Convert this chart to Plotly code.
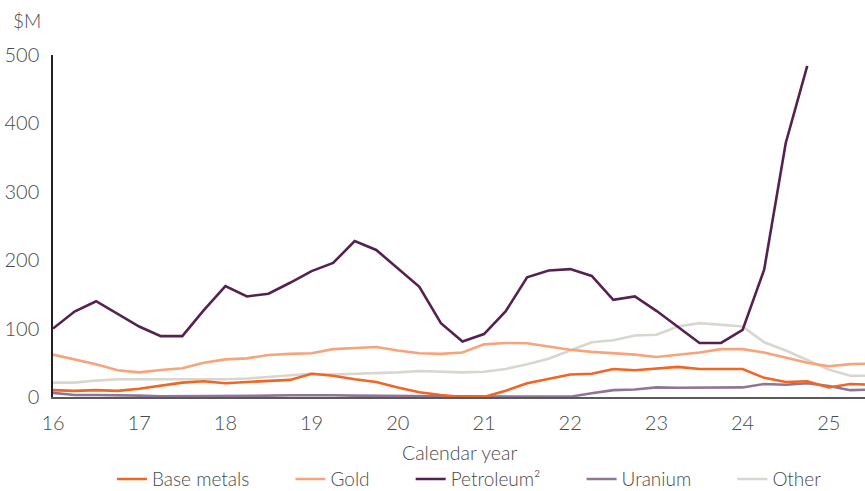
import plotly.graph_objects as go

# Quarterly observations, calendar years 2016 to 2025 (x in two-digit years)
quarters = [16 + 0.25 * i for i in range(39)]

base_metals = [10, 9, 10, 9, 12, 17, 21, 23, 20, 22, 24, 25, 34, 31, 26, 22,
               14, 7, 3, 0, 0, 9, 20, 26, 33, 34, 41, 39, 41, 44, 41, 41,
               41, 28, 22, 23, 14, 19, 18]
gold = [62, 55, 48, 39, 36, 39.5, 42, 50, 55, 56.5, 61.5, 63, 64, 70, 71, 73,
        68, 64, 63, 65, 77, 79, 78.5, 73.5, 69, 66, 64, 62, 58.5, 61.5, 65, 70,
        70, 65, 57, 50, 45, 48, 49]
petroleum = [100, 125, 140, 121, 103, 89, 89, 127, 162, 147, 151, 167, 184, 196,
             228, 215, 188, 161, 108, 81, 92, 125, 175, 185, 187, 177, 142, 147,
             126, 103, 79, 79, 98, 186, 371, 484]
uranium = [6, 3, 3, 3, 2, 1, 1, 1, 1, 1.5, 2, 2.5, 3, 2.5, 2, 1.5,
           1, 1, 1, 1, 1, 1, 1, 1, 0.5, 5.5, 10, 11, 14, 13.5, 13.5, 13,
           14, 19, 18, 20, 16, 10, 11]
other = [21, 21, 24, 26, 26, 26, 26, 25, 26, 27, 29, 32, 34, 33, 34, 34,
         36, 38, 37, 36, 37, 41, 48, 56, 68, 80, 83, 90, 91, 103, 108, 106,
         103, 80, 68, 54, 40, 31, 31]

year_ticks = list(range(16, 26))
value_ticks = [0, 100, 200, 300, 400, 500]

series = [
    ("Base metals", base_metals, "#F26522"),
    ("Gold", gold, "#F7A47B"),
    ("Petroleum²", petroleum, "#55224F"),
    ("Uranium", uranium, "#8F7696"),
    ("Other", other, "#D9D6CF"),
]
order = [s[0] for s in series]

FONT = "Lato"
TEXT = "#4a4a4a"
PAD = "\u00a0" * 7  # extra room after each legend label

fig = go.Figure()
# draw the pale lines first so the dark ones sit on top
for name, values, color in [series[4], series[1], series[3], series[0], series[2]]:
    fig.add_trace(go.Scatter(
        x=quarters[:len(values)], y=values, mode="lines", name=name + PAD,
        line=dict(color=color, width=2.6),
        legendrank=order.index(name) + 1,
    ))

fig.update_layout(
    width=865, height=491,
    margin=dict(l=53, r=0, t=55, b=94, autoexpand=False),
    paper_bgcolor="white", plot_bgcolor="white",
    font=dict(family=FONT, size=19, color=TEXT, weight=300),
    showlegend=True,
    legend=dict(
        orientation="h", xref="container", yref="container",
        x=112 / 865, xanchor="left", y=0.024, yanchor="middle",
        font=dict(family=FONT, size=19, color=TEXT, weight=300),
        itemwidth=30, traceorder="normal", tracegroupgap=0,
    ),
    annotations=[
        dict(text="$M", xref="paper", yref="paper", x=-0.052, y=1.1,
             xanchor="left", yanchor="middle", showarrow=False,
             font=dict(family=FONT, size=19, color=TEXT, weight=300)),
        dict(text="Calendar year", xref="paper", yref="paper", x=0.5, y=-0.161,
             xanchor="center", yanchor="middle", showarrow=False,
             font=dict(family=FONT, size=19.5, color=TEXT, weight=300)),
    ],
)

fig.update_xaxes(
    range=[16, 25.42], tickvals=year_ticks, ticktext=[str(t) for t in year_ticks],
    showgrid=False, zeroline=False, showline=True, linecolor="#5a5a5a", linewidth=2,
    ticks="", ticklabelstandoff=7, automargin=False,
    tickfont=dict(family=FONT, size=20, color=TEXT, weight=300),
)
fig.update_yaxes(
    range=[0, 500], tickvals=value_ticks, ticktext=[str(t) for t in value_ticks],
    showgrid=False, zeroline=False, showline=True, linecolor="#222222", linewidth=1.5,
    ticks="", ticklabelstandoff=8, automargin=False,
    tickfont=dict(family=FONT, size=20, color=TEXT, weight=300),
)

fig.write_html("out.html")
